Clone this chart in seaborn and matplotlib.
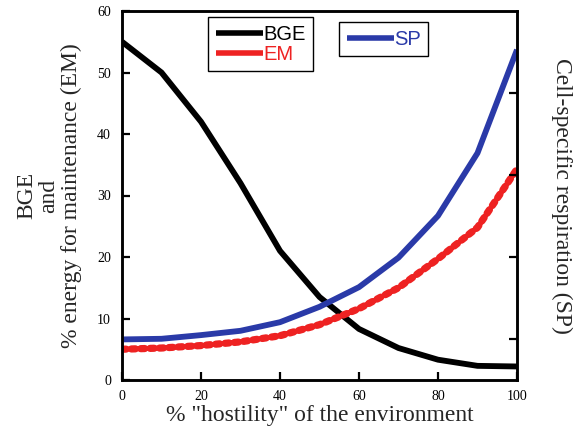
import matplotlib
matplotlib.use("Agg")
import matplotlib.pyplot as plt
import seaborn as sns
import pandas as pd
from matplotlib.lines import Line2D

hostility = [0, 10, 20, 30, 40, 50, 60, 70, 80, 90, 100]
bge = [55, 50, 42, 32, 21, 13.5, 8.3, 5.2, 3.3, 2.3, 2.2]
em = [5.0, 5.2, 5.6, 6.2, 7.2, 9.0, 11.6, 15.0, 19.7, 24.8, 34.3]
sp = [6.6, 6.7, 7.3, 8.0, 9.4, 11.9, 15.1, 19.9, 26.7, 36.9, 53.7]

xticks = [0, 20, 40, 60, 80, 100]
yticks = [0, 10, 20, 30, 40, 50, 60]

df = pd.DataFrame({"x": hostility, "BGE": bge, "EM": em, "SP": sp})

sns.set_style("ticks")
plt.rcParams["font.family"] = ["Liberation Serif", "DejaVu Serif"]

fig = plt.figure(figsize=(5.81, 4.37), dpi=100)
ax = fig.add_axes([122 / 581, 1 - 380 / 437, 395 / 581, 369 / 437])

black = "#000000"
red = "#ee2222"
blue = "#2a3aa8"

sns.lineplot(data=df, x="x", y="BGE", ax=ax, color=black, lw=4.2,
             solid_capstyle="butt")
sns.lineplot(data=df, x="x", y="SP", ax=ax, color=blue, lw=4.2,
             solid_capstyle="butt")
sns.lineplot(data=df, x="x", y="EM", ax=ax, color=red, lw=3.6,
             solid_capstyle="butt")
ax.plot(hostility, em, color=red, lw=5.2, linestyle=(0, (0.55, 0.75)),
        dash_capstyle="round")

ax.set_xlim(0, 100)
ax.set_ylim(0, 60)
ax.set_xticks(xticks)
ax.set_yticks(yticks)
ax.tick_params(direction="in", length=6, width=1.6, labelsize=10, pad=8,
               colors="black")
ax.tick_params(axis="x", pad=7)
for s in ax.spines.values():
    s.set_linewidth(1.8)
    s.set_visible(True)
    s.set_color("black")

ax.set_xlabel('% "hostility" of the environment', fontsize=17, labelpad=2)
ax.set_ylabel("BGE\nand\n% energy for maintenance (EM)", fontsize=17,
              labelpad=11, linespacing=1.08)

ax2 = ax.twinx()
ax2.set_ylim(0, 4.5)
ax2.set_yticks([0.5, 1.5, 2.5, 3.5])
ax2.tick_params(direction="in", length=6, width=1.6, labelright=False,
                colors="black")
for s in ax2.spines.values():
    s.set_linewidth(1.8)
    s.set_color("black")
ax2.set_ylabel("Cell-specific respiration (SP)", fontsize=17, rotation=-90)
ax2.yaxis.set_label_coords(1.14, 0.5)

leg_font = {"family": ["Liberation Sans"], "size": 14.5}
h1 = [Line2D([], [], color=black, lw=4, solid_capstyle="butt"),
      Line2D([], [], color=red, lw=4, solid_capstyle="butt")]
leg1 = ax2.legend(h1, ["BGE", "EM"], loc="upper left",
                  bbox_to_anchor=(0.218, 0.984), borderaxespad=0,
                  prop=leg_font, labelcolor=[black, red], handlelength=2.35,
                  handletextpad=0.0, fancybox=False, edgecolor="black",
                  framealpha=1, labelspacing=0.05, borderpad=0.38)
leg1.get_frame().set_linewidth(1.0)
ax2.add_artist(leg1)
h2 = [Line2D([], [], color=blue, lw=4, solid_capstyle="butt")]
leg2 = ax2.legend(h2, ["SP"], loc="upper left",
                  bbox_to_anchor=(0.549, 0.970), borderaxespad=0,
                  prop=leg_font, labelcolor=[blue], handlelength=2.35,
                  handletextpad=0.0, fancybox=False, edgecolor="black",
                  framealpha=1, borderpad=0.38)
leg2.get_frame().set_linewidth(1.0)

fig.savefig("out.png", dpi=100)
